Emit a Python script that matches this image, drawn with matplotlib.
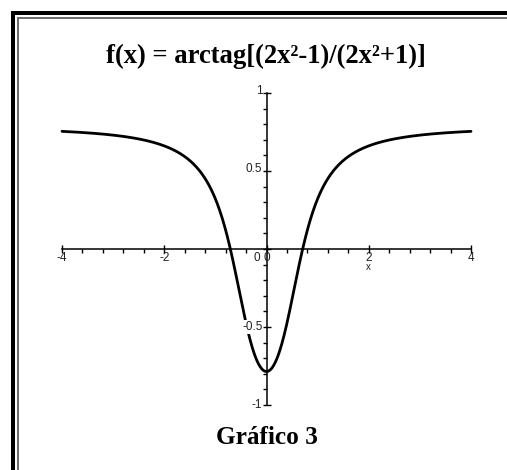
import numpy as np
import matplotlib
matplotlib.use("Agg")
import matplotlib.pyplot as plt
from matplotlib.lines import Line2D
from matplotlib.ticker import MultipleLocator

# Chart content
title_text = "f(x) = arctag[(2x²-1)/(2x²+1)]"
caption_text = "Gráfico 3"
x_range = [-4, 4]
y_range = [-1, 1]
x_major_ticks = [-4, -2, 0, 2, 4]
x_tick_labels = ["-4", "-2", "0", "2", "4"]
y_major_ticks = [-1, -0.5, 0.5, 1]
y_tick_labels = ["-1", "-0.5", "0.5", "1"]
x_samples = np.linspace(x_range[0], x_range[1], 801)

def f(x):
    # arctag[(2x²-1)/(2x²+1)]
    return np.arctan((2 * x**2 - 1) / (2 * x**2 + 1))

W, H, DPI = 507, 470, 100
fig = plt.figure(figsize=(W / DPI, H / DPI), dpi=DPI)
fig.patch.set_facecolor("white")

# double frame (thick black outside, thin grey inside)
fig.add_artist(Line2D([13 / W, 13 / W], [1 - 11 / H, 0], color="black", lw=4 * 0.72,
                      transform=fig.transFigure, solid_capstyle="butt"))
fig.add_artist(Line2D([11 / W, 1], [1 - 13 / H, 1 - 13 / H], color="black", lw=4 * 0.72,
                      transform=fig.transFigure, solid_capstyle="butt"))
fig.add_artist(Line2D([17.5 / W, 17.5 / W], [1 - 16.5 / H, 0], color="#6e6e6e", lw=2 * 0.72,
                      transform=fig.transFigure, solid_capstyle="butt"))
fig.add_artist(Line2D([16.5 / W, 1], [1 - 17.5 / H, 1 - 17.5 / H], color="#6e6e6e", lw=2 * 0.72,
                      transform=fig.transFigure, solid_capstyle="butt"))

# plot area: x from -4..4 and y from -1..1
left, right = 62, 471
top, bottom = 93, 405
ax = fig.add_axes([left / W, 1 - bottom / H, (right - left) / W, (bottom - top) / H])
ax.set_xlim(x_range)
ax.set_ylim(y_range)
ax.patch.set_alpha(0)

for s in ["top", "right"]:
    ax.spines[s].set_visible(False)
ax.spines["left"].set_position(("data", 0))
ax.spines["bottom"].set_position(("data", 0))
ax.spines["left"].set_linewidth(1.1)
ax.spines["bottom"].set_linewidth(1.1)

ax.xaxis.set_major_locator(MultipleLocator(2))
ax.xaxis.set_minor_locator(MultipleLocator(0.4))
ax.yaxis.set_major_locator(MultipleLocator(0.5))
ax.yaxis.set_minor_locator(MultipleLocator(0.1))
ax.tick_params(which="major", direction="inout", length=6, width=1.0)
ax.tick_params(which="minor", direction="out", length=3, width=1.0)
ax.set_xticklabels([])
ax.set_yticklabels([])

tick_font = dict(family="Liberation Sans", fontsize=8.5, color="#222222")
for xv, lab in zip(x_major_ticks, x_tick_labels):
    ax.text(xv, -0.018, lab, ha="center", va="top", **tick_font)
for yv, lab in zip(y_major_ticks, y_tick_labels):
    ax.text(-0.08, yv + (0.012 if yv > 0 else 0), lab, ha="right", va="center", zorder=5,
            bbox=dict(facecolor="white", edgecolor="none", pad=0.6), **tick_font)
ax.text(-0.12, -0.018, "0", ha="right", va="top", **tick_font)
ax.text(2, -0.085, "x", ha="center", va="top", family="Liberation Sans", fontsize=7,
        color="#222222")

ax.plot(x_samples, f(x_samples), color="black", lw=2.0, clip_on=False,
        solid_capstyle="round", zorder=3)

fig.text(266 / W, 1 - 56 / H, title_text, ha="center", va="center",
         family="Liberation Serif", fontweight="bold", fontsize=19.2)
fig.text(267 / W, 1 - 437 / H, caption_text, ha="center", va="center",
         family="Liberation Serif", fontweight="bold", fontsize=18.2)

fig.savefig("out.png", dpi=DPI, facecolor="white")
